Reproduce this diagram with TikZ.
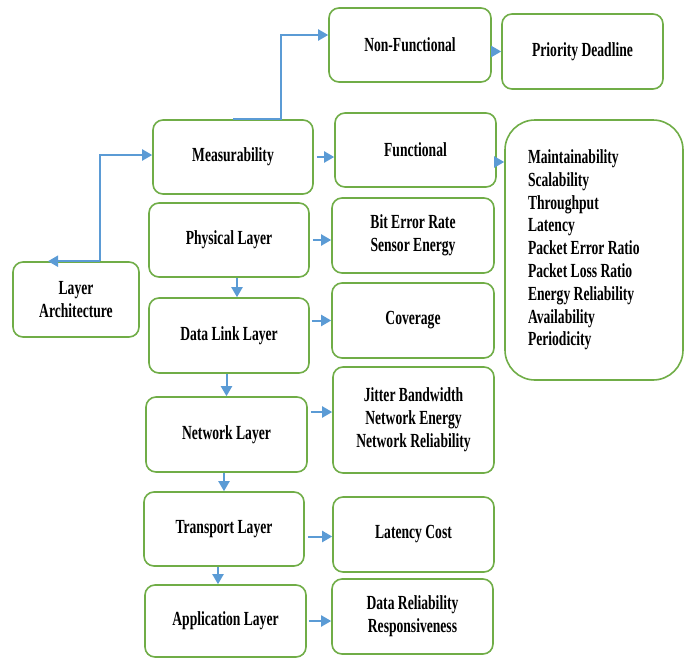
\documentclass[tikz,border=0pt]{standalone}
\usepackage{fontspec}
\setmainfont[FakeStretch=0.68]{Liberation Serif}
\usetikzlibrary{arrows.meta}
\definecolor{boxgreen}{RGB}{112,173,71}
\definecolor{arrblue}{RGB}{91,155,213}
\tikzset{
  bx/.style={draw=boxgreen, line width=1.6pt, rounded corners=10pt, fill=white,
    inner sep=0pt, align=center,
    font=\fontsize{20}{22.8}\selectfont\bfseries},
  arr/.style={draw=arrblue, line width=2pt, -{Triangle[length=10pt,width=11pt]}},
}
\newcommand{\bxat}[6]{\node[bx, minimum width={#4-#2}, minimum height={#5-#3}] (#1) at ({(#2+#4)/2},{(#3+#5)/2}) {#6};}
\begin{document}
\begin{tikzpicture}[x=1pt,y=-1pt]
\useasboundingbox (0,0) rectangle (685,659);
\bxat{nonf}{329}{8}{491}{82}{Non-Functional}
\bxat{prio}{502}{14}{663}{89}{Priority Deadline}
\bxat{meas}{153}{120}{313}{194}{Measurability}
\bxat{func}{335}{113}{496}{187}{Functional}
\bxat{phys}{149}{203}{309}{277}{Physical Layer}
\bxat{ber}{332}{198}{494}{273}{Bit Error Rate\\Sensor Energy}
\bxat{arch}{13}{262}{139}{337}{Layer\\Architecture}
\bxat{dll}{149}{298}{309}{373}{Data Link Layer}
\bxat{cov}{332}{283}{494}{358}{Coverage}
\bxat{net}{146}{397}{307}{472}{Network Layer}
\bxat{jit}{333}{367}{494}{473}{Jitter Bandwidth\\Network Energy\\Network Reliability}
\bxat{trans}{144}{492}{304}{566}{Transport Layer}
\bxat{lat}{333}{497}{494}{572}{Latency Cost}
\bxat{app}{145}{585}{306}{657}{Application Layer}
\bxat{drel}{332}{579}{493}{654}{Data Reliability\\Responsiveness}
\node[bx, rounded corners=30pt, minimum width=178pt, minimum height=260pt,
  text width=132pt, align=flush left] (big) at (594,250)
  {Maintainability\\Scalability\\Throughput\\Latency\\Packet Error Ratio\\Packet Loss Ratio\\Energy Reliability\\Availability\\Periodicity};
% connectors
\coordinate (archtip) at ([xshift=-28pt]arch.north);
\coordinate (j1) at ([xshift=24pt]arch.north);
\draw[arr] (j1) -- (archtip);
\draw[arr] (j1) |- ([yshift=2pt]meas.west);
\coordinate (m2) at ([xshift=48pt]meas.north);
\coordinate (nfin) at ([yshift=10pt]nonf.west);
\draw[arr] (meas.north) -- (m2) |- (nfin);
\draw[arr] (nonf.east |- prio.west) -- (prio.west);
\draw[arr, shorten <=3pt] (meas.east) -- (meas.east -| func.west);
\coordinate (fb) at ([yshift=-12pt]func.east);
\draw[arr, shorten <=2pt] (fb) -- (fb -| big.west);
\draw[arr, shorten <=3pt] (phys.east) -- (phys.east -| ber.west);
\coordinate (pd) at ([xshift=8pt]phys.south);
\draw[arr] (pd) -- (pd |- dll.north);
\draw[arr, shorten <=2pt] (dll.east |- cov.west) -- (cov.west);
\draw[arr] (net.north |- dll.south) -- (net.north);
\coordinate (jn) at ([yshift=8pt]jit.west);
\draw[arr, shorten <=3pt] (jn -| net.east) -- (jn);
\draw[arr] (trans.north |- net.south) -- (trans.north);
\coordinate (lt) at ([yshift=-2pt]lat.west);
\draw[arr, shorten <=3pt] (lt -| trans.east) -- (lt);
\coordinate (ta) at ([xshift=-6pt]trans.south);
\draw[arr] (ta) -- (ta |- app.north);
\draw[arr, shorten <=2pt] (app.east) -- (app.east -| drel.west);
\end{tikzpicture}
\end{document}
